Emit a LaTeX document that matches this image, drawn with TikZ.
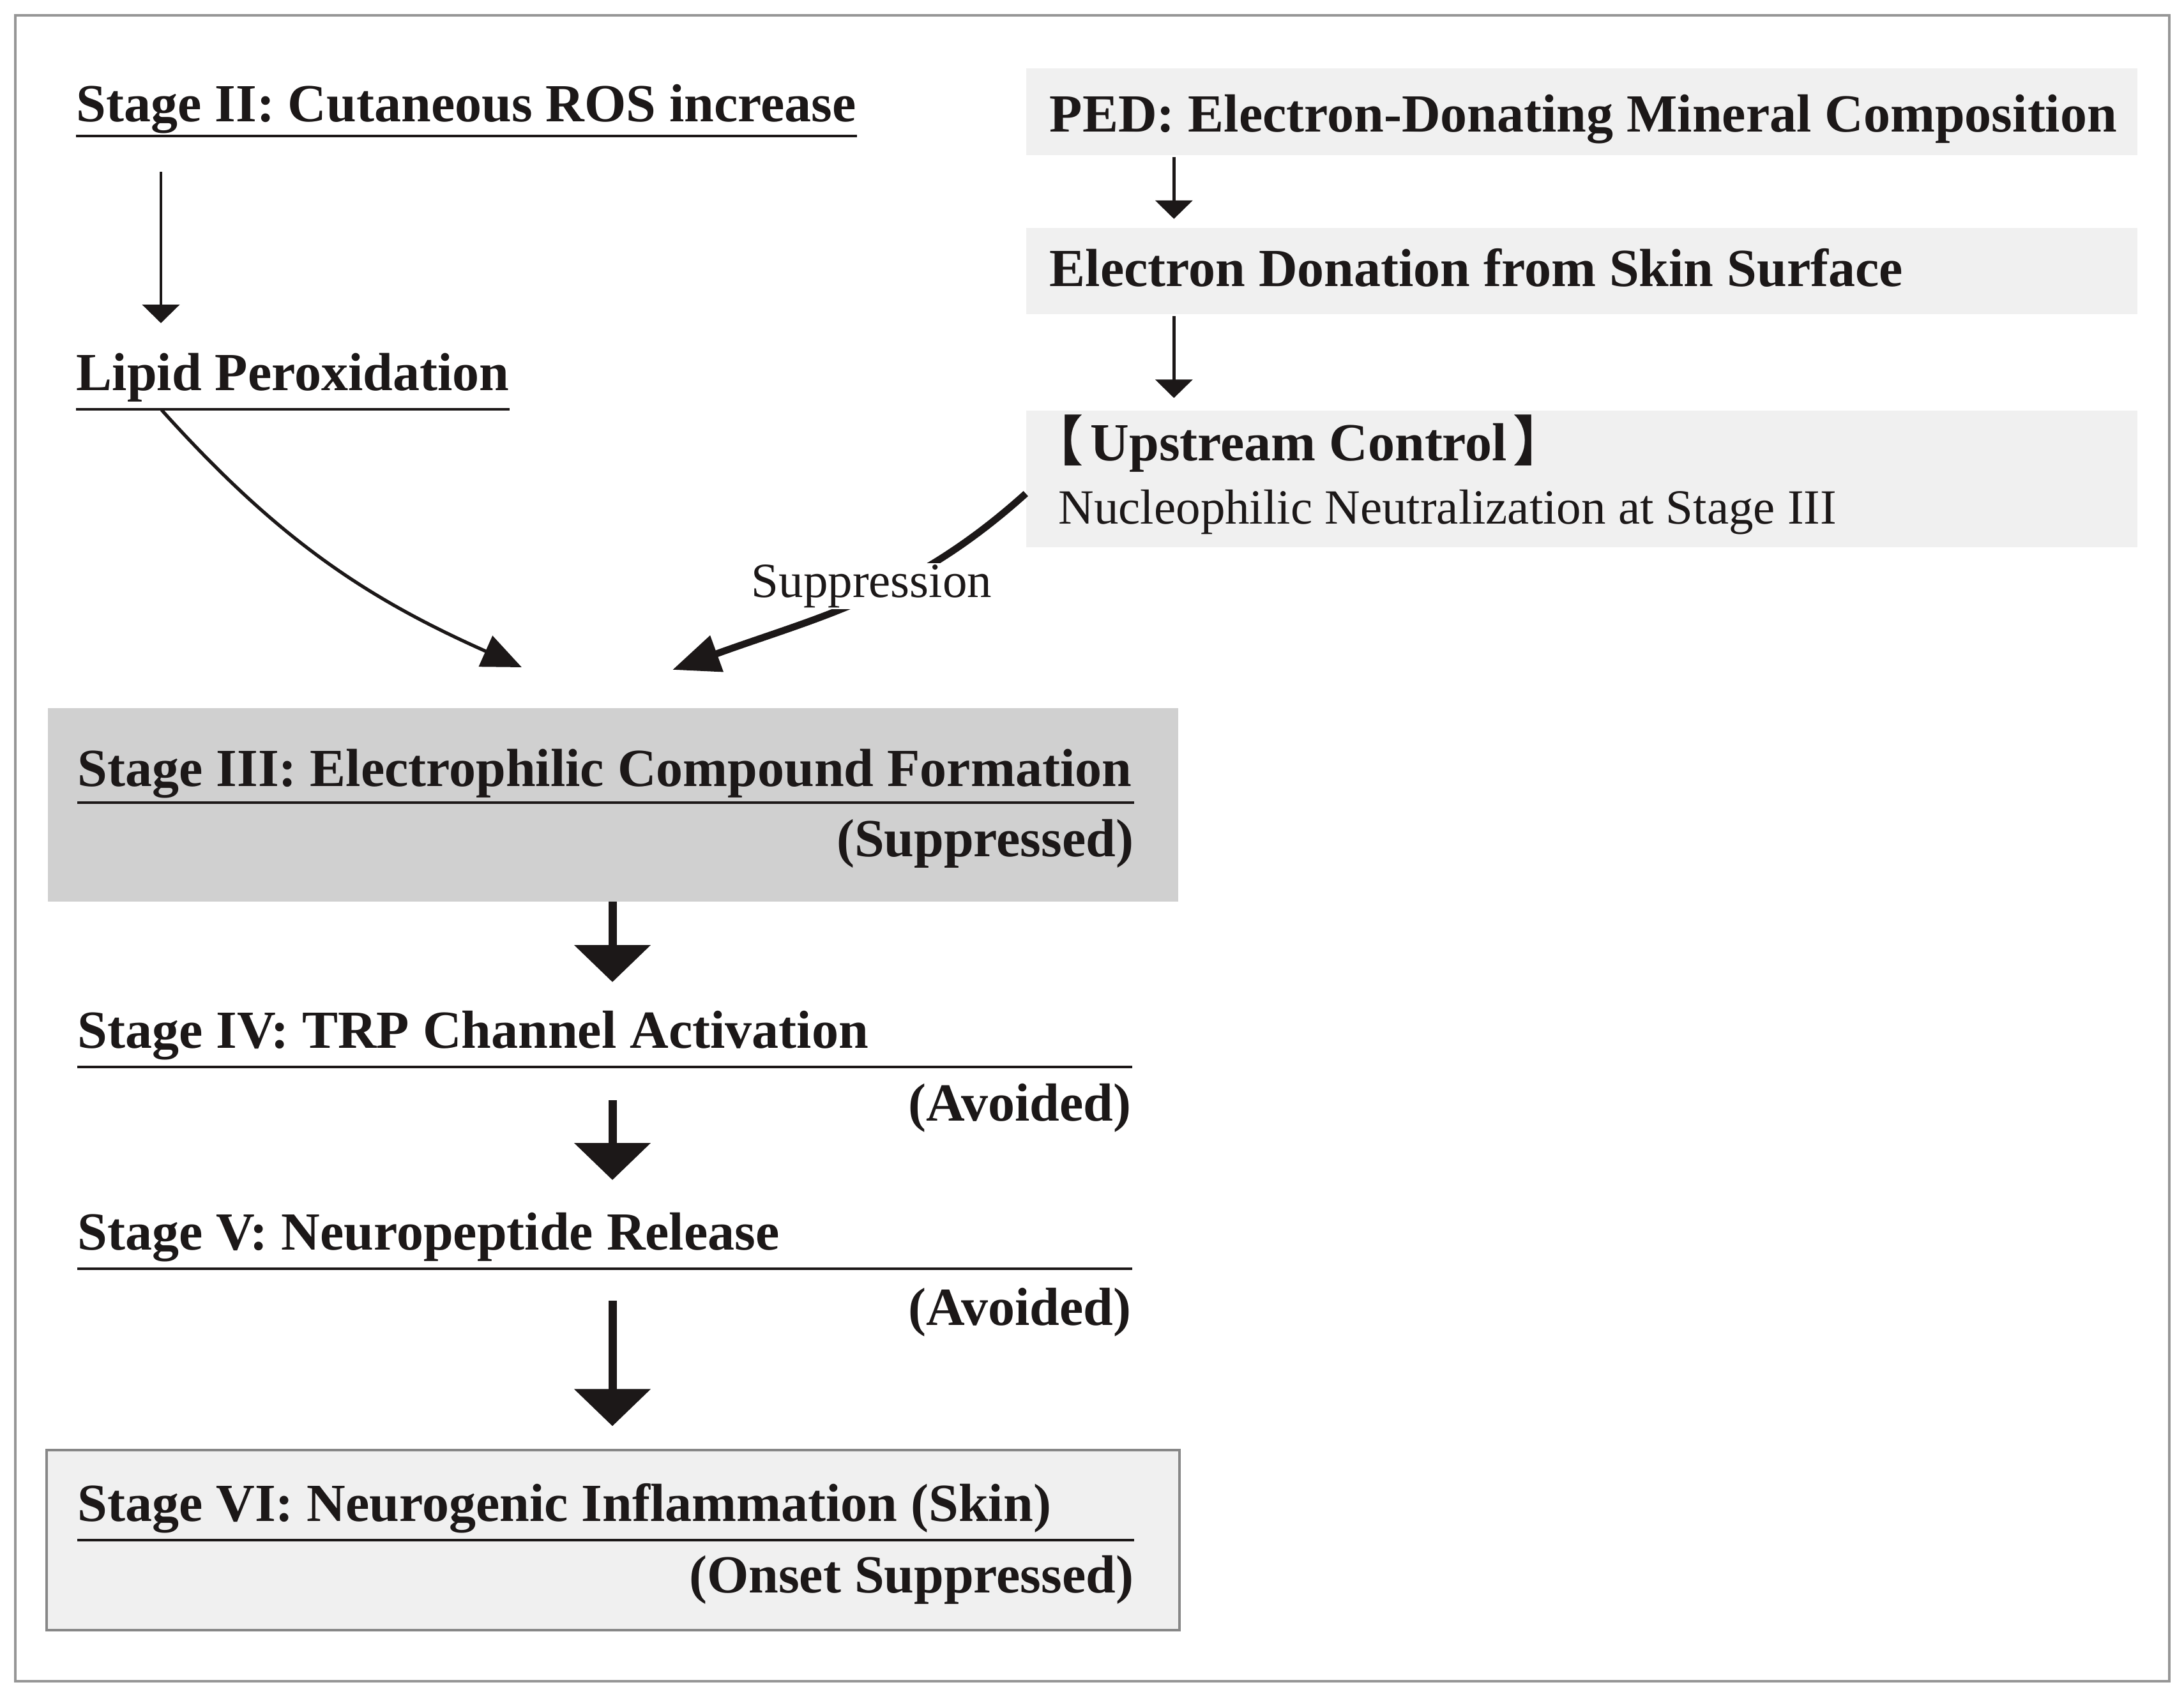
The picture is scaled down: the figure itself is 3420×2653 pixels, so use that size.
\documentclass[tikz,border=0pt]{standalone}
\usepackage{fontspec}
\setmainfont{Liberation Serif}
\newfontfamily\cjk{Noto Sans CJK SC}
\usetikzlibrary{positioning, arrows.meta, calc}
\definecolor{cink}{RGB}{28,24,24}
\definecolor{cframe}{RGB}{150,150,150}
\definecolor{cpale}{RGB}{240,240,240}
\definecolor{cgray}{RGB}{208,208,208}
\definecolor{cedge}{RGB}{135,135,135}
\newcommand{\headfont}{\fontsize{23.9pt}{28pt}\selectfont\bfseries}
\newcommand{\plainfont}{\fontsize{21.9pt}{26pt}\selectfont}

\begin{document}
\begin{tikzpicture}[x=0.1mm, y=-0.1mm,
    head/.style={font=\headfont, inner sep=0pt, anchor=base west, text=cink},
    note/.style={font=\headfont, inner sep=0pt, anchor=base east, text=cink},
    uline/.style={draw=cink, line width=1.4pt},
    pale/.style={fill=cpale, draw=none, minimum width=174mm},
    thinarr/.style={draw=cink, line width=1.4pt, -{Triangle[width=5.8mm, length=2.9mm]}},
    bigarr/.style={draw=cink, line width=3.7pt, -{Triangle[width=11.7mm, length=5.8mm]}},
    curvearr/.style={draw=cink, line width=1.5pt, -{Triangle[width=5.2mm, length=6.2mm]}},
    suparr/.style={draw=cink, line width=3.1pt, -{Triangle[width=5.8mm, length=7.4mm]}}]

  \useasboundingbox (0,0) rectangle (3420,2653);
  \draw[cframe, line width=1pt] (24,24) rectangle (3397,2633);

  % --- Stage II -> lipid peroxidation ---
  \node[head] (s2) at (119,190) {Stage II: Cutaneous ROS increase};
  \draw[uline] ([yshift=-2.3mm]s2.base west) -- ([yshift=-2.3mm]s2.base east);
  \node[head] (lp) at (119,611) {Lipid Peroxidation};
  \draw[uline] ([yshift=-3mm]lp.base west) -- ([yshift=-3mm]lp.base east);
  \draw[thinarr, shorten <=6mm, shorten >=4.6mm] ([xshift=13.3mm]s2.south west) -- ([xshift=13.3mm]lp.north west);

  % --- PED chain ---
  \node[pale, minimum height=13.6mm] (ped) at (2477,175) {};
  \node[head] (pedt) at (1643,206) {PED: Electron-Donating Mineral Composition};
  \node[pale, minimum height=13.5mm] (eds) at (2477,424) {};
  \node[head] (edst) at (1643,448) {Electron Donation from Skin Surface};
  \node[pale, minimum height=21.4mm] (up) at (2477,750) {};
  \node[head] (upt) at (1612,721) {{\cjk 【}\hspace{1.1mm}Upstream Control\hspace{0.9mm}{\cjk 】}};
  \node[head, font=\plainfont] (upn) at (1657,820) {Nucleophilic Neutralization at Stage III};
  \draw[thinarr, shorten <=0.2mm, shorten >=1.3mm] ([xshift=23.2mm]ped.south west) -- ([xshift=23.2mm]eds.north west);
  \draw[thinarr, shorten <=0.3mm, shorten >=1.9mm] ([xshift=23.2mm]eds.south west) -- ([xshift=23.2mm]up.north west);

  % --- converging arrows ---
  \coordinate (lpu) at (253,642);
  \coordinate (t1) at (817,1045);
  \coordinate (t2) at (1053,1049);
  \draw[curvearr] (lpu) to[out=-48, in=156] (t1);
  \draw[suparr] ([yshift=-2.3mm]up.west) to[out=-138, in=20] (t2);
  \node[font=\plainfont, text=cink, fill=white, inner xsep=0.6mm, inner ysep=0.2mm] (sup) at (1365,918) {Suppression};

  % --- Stage III .. VI ---
  \node[fill=cgray, minimum width=177mm, minimum height=30.3mm] (s3b) at (960,1260) {};
  \node[head] (s3) at (121,1231) {Stage III: Electrophilic Compound Formation};
  \draw[uline] ([yshift=-2.6mm]s3.base west) -- ++(1655,0);
  \node[note] (n3) at (1776,1341) {(Suppressed)};

  \node[head] (s4) at (121,1641) {Stage IV: TRP Channel Activation};
  \draw[uline] ([yshift=-3mm]s4.base west) coordinate (u4) -- ++(1652,0);
  \node[note] (n4) at (1772,1755) {(Avoided)};

  \node[head] (s5) at (121,1957) {Stage V: Neuropeptide Release};
  \draw[uline] ([yshift=-3mm]s5.base west) coordinate (u5) -- ++(1652,0);
  \node[note] (n5) at (1772,2075) {(Avoided)};

  \node[fill=cpale, draw=cedge, line width=0.9pt, minimum width=177.4mm, minimum height=28.2mm] (s6b) at (960,2412) {};
  \node[head] (s6) at (121,2382) {Stage VI: Neurogenic Inflammation (Skin)};
  \draw[uline] ([yshift=-3mm]s6.base west) -- ++(1655,0);
  \node[note] (n6) at (1776,2494) {(Onset Suppressed)};

  \coordinate (ax) at (959,0);
  \draw[bigarr, shorten >=4.4mm] (s3b.south -| ax) -- (s4.north -| ax);
  \draw[bigarr, shorten <=5.2mm, shorten >=5mm] (u4 -| ax) -- (s5.north -| ax);
  \draw[bigarr, shorten <=5mm, shorten >=3.6mm] (u5 -| ax) -- (s6b.north -| ax);
\end{tikzpicture}
\end{document}
